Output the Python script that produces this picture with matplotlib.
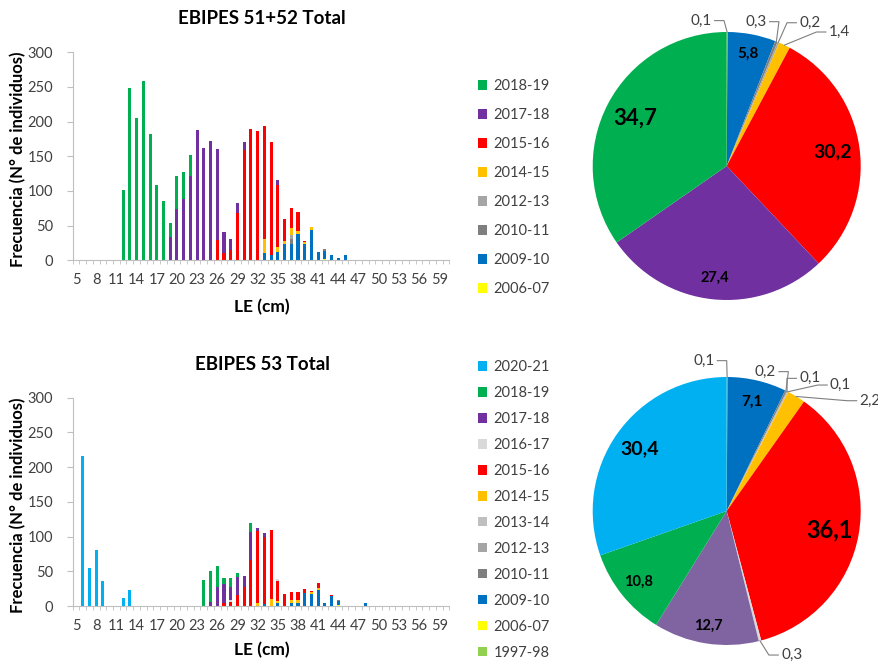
import matplotlib
matplotlib.use("Agg")
import matplotlib.pyplot as plt
import numpy as np

plt.rcParams.update({
    "font.family": ["Lato", "DejaVu Sans"],
    "font.size": 10,
})

W, H = 879, 663

# length classes (cm)
LE = np.arange(5, 61)
TICK_LE = LE[::3]

# ---------------------------------------------------------------------------
# EBIPES 51+52 — counts per length class, stacked bottom -> top
# ---------------------------------------------------------------------------
top_seasons = ["2006-07", "2009-10", "2010-11", "2012-13", "2014-15",
               "2015-16", "2017-18", "2018-19"]
top_colors = ["#FFFF00", "#0070C0", "#7F7F7F", "#A5A5A5", "#FFC000",
              "#FF0000", "#7030A0", "#00B050"]
top_0607 = {42: 2}
top_0910 = {33: 11, 34: 8, 35: 12, 36: 24, 37: 23, 38: 38, 39: 24, 40: 44,
            41: 12, 42: 12, 43: 8, 44: 4, 45: 8}
top_1011 = {37: 7, 42: 2}
top_1213 = {37: 6}
top_1415 = {33: 19, 35: 7, 36: 4, 37: 11, 38: 4, 39: 2, 40: 4}
top_1516 = {26: 29, 27: 10, 28: 15, 29: 68, 30: 159, 31: 189, 32: 186,
            33: 164, 34: 162, 35: 90, 36: 32, 37: 29, 38: 28, 39: 2}
top_1718 = {19: 33, 20: 74, 21: 89, 22: 122, 23: 188, 24: 162, 25: 172,
            26: 132, 27: 31, 28: 16, 29: 15, 30: 11, 35: 7}
top_1819 = {12: 101, 13: 248, 14: 205, 15: 259, 16: 182, 17: 108, 18: 86,
            19: 21, 20: 48, 21: 38, 22: 30}
top_counts = [top_0607, top_0910, top_1011, top_1213, top_1415,
              top_1516, top_1718, top_1819]
top_pie = [0.1, 5.8, 0.3, 0.2, 1.4, 30.2, 27.4, 34.7]
top_pie_colors = top_colors

# ---------------------------------------------------------------------------
# EBIPES 53
# ---------------------------------------------------------------------------
bot_seasons = ["1997-98", "2006-07", "2009-10", "2010-11", "2012-13",
               "2013-14", "2014-15", "2015-16", "2016-17", "2017-18",
               "2018-19", "2020-21"]
bot_colors = ["#92D050", "#FFFF00", "#0070C0", "#7F7F7F", "#A5A5A5",
              "#BFBFBF", "#FFC000", "#FF0000", "#D9D9D9", "#7030A0",
              "#00B050", "#00B0F0"]
bot_9798 = {}
bot_0607 = {44: 1}
bot_0910 = {33: 3, 35: 4, 37: 4, 38: 4, 39: 19, 40: 18, 41: 23, 42: 4,
            43: 14, 44: 6, 48: 5}
bot_1011 = {44: 2}
bot_1213 = {}
bot_1314 = {}
bot_1415 = {32: 5, 34: 10, 35: 3, 37: 5, 38: 5, 40: 2, 41: 3, 42: 1}
bot_1516 = {27: 4, 28: 6, 29: 16, 30: 28, 31: 66, 32: 103, 33: 97, 34: 99,
            35: 29, 36: 17, 37: 11, 38: 11, 39: 5, 40: 1, 41: 7, 43: 2}
bot_1617 = {28: 3, 35: 3}
bot_1718 = {25: 6, 26: 28, 27: 27, 28: 19, 29: 26, 30: 15, 31: 41, 32: 5,
            33: 5}
bot_1819 = {24: 38, 25: 44, 26: 29, 27: 10, 28: 12, 29: 6, 31: 12}
bot_2021 = {6: 216, 7: 55, 8: 80, 9: 36, 12: 12, 13: 23}
bot_counts = [bot_9798, bot_0607, bot_0910, bot_1011, bot_1213, bot_1314,
              bot_1415, bot_1516, bot_1617, bot_1718, bot_1819, bot_2021]
bot_pie = [0.1, 0.0, 7.1, 0.2, 0.1, 0.1, 2.2, 36.1, 0.3, 12.7, 10.8, 30.4]
bot_pie_colors = bot_colors[:9] + ["#8064A2"] + bot_colors[10:]

# pie label layout: big labels (index, radius, size), small labels (index, x, y)
top_big = [(1, 0.85, 11), (5, 0.80, 14), (6, 0.84, 10.5), (7, 0.77, 16)]
top_small = [(0, -0.19, 1.085), (2, 0.22, 1.077), (3, 0.62, 1.069),
             (4, 0.84, 1.0)]
bot_big = [(2, 0.84, 11), (7, 0.78, 17), (9, 0.87, 10.5), (10, 0.84, 10.5),
           (11, 0.80, 14)]
bot_small = [(0, -0.17, 1.122), (3, 0.29, 1.04), (4, 0.62, 0.99),
             (5, 0.85, 0.94), (6, 1.07, 0.823), (8, 0.485, -1.075)]


def fx(px):
    return px / W


def fy(py):
    return 1 - py / H


def fmt(v):
    return f"{v:.1f}".replace(".", ",")


def draw_bars(ax, counts, colors):
    bottom = np.zeros(len(LE))
    handles = []
    for d, c in zip(counts, colors):
        vals = np.array([d.get(int(v), 0) for v in LE], dtype=float)
        h = ax.bar(LE, vals, bottom=bottom, width=0.45, color=c,
                   linewidth=0)
        handles.append(h)
        bottom += vals
    ax.set_xlim(4.5, 60.5)
    ax.set_ylim(0, 300)
    ax.set_yticks(range(0, 301, 50))
    ax.set_xticks(TICK_LE)
    ax.set_xticks(np.arange(4.5, 61, 1), minor=True)
    ax.tick_params(axis="x", which="major", length=0, pad=9,
                   labelcolor="#404040", labelsize=10.5)
    ax.tick_params(axis="x", which="minor", length=3, color="#BFBFBF")
    ax.tick_params(axis="y", length=4, color="#BFBFBF",
                   labelcolor="#404040", labelsize=10.5, pad=10)
    for s in ("top", "right"):
        ax.spines[s].set_visible(False)
    for s in ("left", "bottom"):
        ax.spines[s].set_color("#BFBFBF")
    return handles


def draw_pie(ax, values, colors, big, small):
    ax.pie(values, colors=colors, startangle=90, counterclock=False,
           wedgeprops={"linewidth": 0})
    ax.set_xlim(-1, 1)
    ax.set_ylim(-1, 1)
    ax.set_aspect("equal")
    ax.set_axis_off()
    total = sum(values)
    cum = np.cumsum([0] + list(values))
    mids = np.deg2rad(90 - 360 * (cum[:-1] + np.array(values) / 2) / total)
    for i, r, size in big:
        ax.text(r * np.cos(mids[i]), r * np.sin(mids[i]), fmt(values[i]),
                ha="center", va="center", fontsize=size, fontweight="bold",
                color="black")
    for i, tx, ty in small:
        ex, ey = np.cos(mids[i]), np.sin(mids[i])
        ax.text(tx, ty, fmt(values[i]), ha="center", va="center",
                fontsize=11, color="#404040", clip_on=False)
        if tx < ex:
            sx, elx = tx + 0.10, tx + 0.17
        else:
            sx, elx = tx - 0.10, tx - 0.17
        ax.plot([sx, elx, ex], [ty, ty, ey], color="#7F7F7F", lw=0.8,
                clip_on=False)


fig = plt.figure(figsize=(W / 100, H / 100), dpi=100)

ax1 = fig.add_axes([fx(72.7), fy(260.3), fx(376.6), 208 / H])
h1 = draw_bars(ax1, top_counts, top_colors)
ax2 = fig.add_axes([fx(72.7), fy(606), fx(376.6), 208.3 / H])
h2 = draw_bars(ax2, bot_counts, bot_colors)

for ax, handles, labels, ytop, sp in ((ax1, h1, top_seasons, 79, 1.03),
                                      (ax2, h2, bot_seasons, 360, 0.82)):
    ax.legend(handles[::-1], labels[::-1], loc="upper left",
              bbox_to_anchor=(fx(478), fy(ytop)),
              bbox_transform=fig.transFigure, frameon=False,
              handlelength=0.65, handleheight=0.65, handletextpad=0.4,
              borderpad=0, borderaxespad=0, labelspacing=sp,
              fontsize=10.5, labelcolor="#404040")

fig.text(fx(262), fy(19), "EBIPES 51+52 Total", ha="center", va="center",
         fontsize=13.5, fontweight="bold")
fig.text(fx(262), fy(364), "EBIPES 53 Total", ha="center", va="center",
         fontsize=13.5, fontweight="bold")
for yc in (159, 505):
    fig.text(fx(18), fy(yc), "Frecuencia (N° de individuos)", rotation=90,
             ha="center", va="center", fontsize=12, fontweight="bold")
for yc in (307, 650):
    fig.text(fx(262), fy(yc), "LE (cm)", ha="center", va="center",
             fontsize=12.5, fontweight="bold")

p1 = fig.add_axes([fx(592.7), fy(300), fx(268), 268 / H])
draw_pie(p1, top_pie, top_pie_colors, top_big, top_small)
p2 = fig.add_axes([fx(592.7), fy(645), fx(268), 268 / H])
draw_pie(p2, bot_pie, bot_pie_colors, bot_big, bot_small)

fig.savefig("out.png", dpi=100)
